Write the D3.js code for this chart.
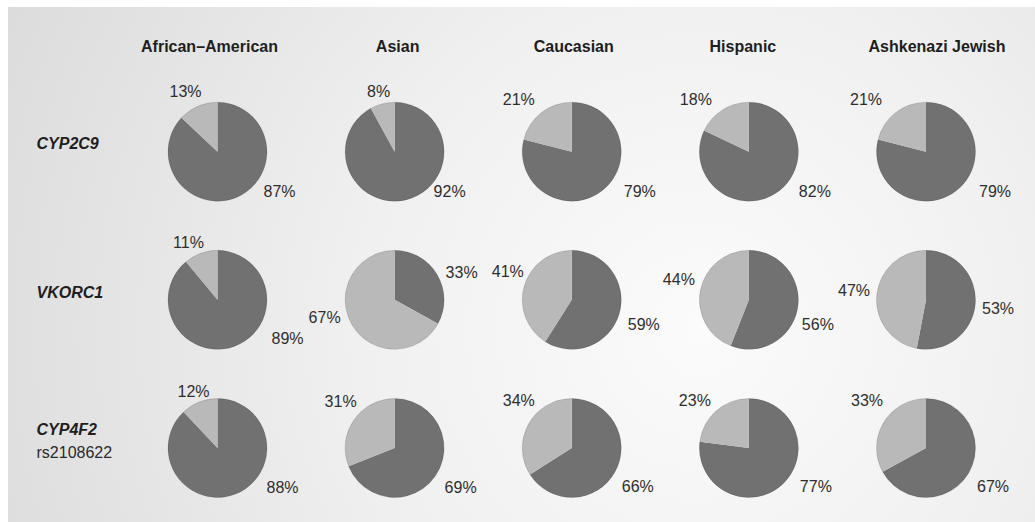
<!DOCTYPE html>
<html>
<head>
<meta charset="utf-8">
<script src="https://cdn.jsdelivr.net/npm/d3@7"></script>
<style>
  html, body { margin: 0; padding: 0; background: #ffffff; }
  svg { display: block; font-family: "Liberation Sans", Arial, Helvetica, sans-serif; }
</style>
</head>
<body>
<svg id="chart" width="1035" height="522"></svg>
<script>
// Populations (columns) and genes (rows)
const populations = ["African–American", "Asian", "Caucasian", "Hispanic", "Ashkenazi Jewish"];
const genes = ["CYP2C9", "VKORC1", "CYP4F2"];
const geneNotes = ["", "", "rs2108622"];

// Allele group shares in percent: dark = first slice, light = second slice
const cyp2c9Dark  = [87, 92, 79, 82, 79];
const cyp2c9Light = [13,  8, 21, 18, 21];
const vkorc1Dark  = [89, 33, 59, 56, 53];
const vkorc1Light = [11, 67, 41, 44, 47];
const cyp4f2Dark  = [88, 69, 66, 77, 67];
const cyp4f2Light = [12, 31, 34, 23, 33];

const darkByGene  = [cyp2c9Dark, vkorc1Dark, cyp4f2Dark];
const lightByGene = [cyp2c9Light, vkorc1Light, cyp4f2Light];

// Layout: where each percentage label sits relative to its pie centre
const darkLabelShift = [
  [[62, 40], [55, 40], [68, 40], [66, 40], [69, 40]],
  [[70, 39], [67, -27], [72, 25], [69, 25], [72, 9]],
  [[65, 39], [66, 39], [66, 38], [67, 38], [67, 38]]
];
const lightLabelShift = [
  [[-32, -60], [-16, -60], [-53, -52], [-53, -52], [-60, -52]],
  [[-29, -57], [-70, 18], [-64, -28], [-70, -20], [-72, -9]],
  [[-24, -57], [-54, -47], [-53, -48], [-54, -48], [-59, -48]]
];
const headerShift = [-8, 3, 2, -6, 11];

const W = 1035, H = 522;
const radius = 49.5;
const colors = { dark: "#717171", light: "#b9b9b9" };

const svg = d3.select("#chart");

// Soft grey backdrop, lighter towards the centre-right
const defs = svg.append("defs");
const grad = defs.append("radialGradient")
  .attr("id", "bg")
  .attr("gradientUnits", "userSpaceOnUse")
  .attr("cx", 700).attr("cy", 330).attr("r", 760);
grad.append("stop").attr("offset", 0).attr("stop-color", "#fbfbfb");
grad.append("stop").attr("offset", 0.45).attr("stop-color", "#f0f0f0");
grad.append("stop").attr("offset", 1).attr("stop-color", "#dcdcdc");

svg.append("rect")
  .attr("x", 8).attr("y", 7)
  .attr("width", W - 8).attr("height", H - 7)
  .attr("fill", "url(#bg)");

const x = d3.scalePoint().domain(populations).range([217.5, 926]);
const y = d3.scalePoint().domain(genes).range([151.7, 448]);

// Column headers
svg.append("g").selectAll("text")
  .data(populations)
  .join("text")
  .attr("x", (d, i) => x(d) + headerShift[i])
  .attr("y", 51.5)
  .attr("text-anchor", "middle")
  .attr("font-size", 16)
  .attr("font-weight", "bold")
  .attr("fill", "#1e1e1e")
  .text(d => d);

// Row labels
const rowLabels = svg.append("g").selectAll("g")
  .data(genes)
  .join("g")
  .attr("transform", d => `translate(36.5, ${y(d) - 8})`);

rowLabels.append("text")
  .attr("y", (d, i) => geneNotes[i] ? -5.5 : 5.7)
  .attr("font-size", 16)
  .attr("font-weight", "bold")
  .attr("font-style", "italic")
  .attr("fill", "#1e1e1e")
  .text(d => d);

rowLabels.append("text")
  .attr("y", 17.5)
  .attr("font-size", 16)
  .attr("fill", "#2a2a2a")
  .text((d, i) => geneNotes[i]);

// Pies: dark share runs clockwise from twelve o'clock, light share fills the rest
const pie = d3.pie().sort(null).value(d => d.value);
const arc = d3.arc().innerRadius(0).outerRadius(radius);

genes.forEach((gene, gi) => {
  populations.forEach((pop, pi) => {
    const slices = [
      { kind: "dark",  value: darkByGene[gi][pi],  shift: darkLabelShift[gi][pi] },
      { kind: "light", value: lightByGene[gi][pi], shift: lightLabelShift[gi][pi] }
    ];
    const g = svg.append("g")
      .attr("transform", `translate(${x(pop)}, ${y(gene)})`);

    g.selectAll("path")
      .data(pie(slices))
      .join("path")
      .attr("d", arc)
      .attr("fill", d => colors[d.data.kind]);

    g.append("circle")
      .attr("r", radius)
      .attr("fill", "none")
      .attr("stroke", "rgba(0,0,0,0.12)")
      .attr("stroke-width", 1);

    g.selectAll("text")
      .data(slices)
      .join("text")
      .attr("x", d => d.shift[0])
      .attr("y", d => d.shift[1])
      .attr("dy", "0.35em")
      .attr("text-anchor", "middle")
      .attr("font-size", 16)
      .attr("fill", "#2e2e2e")
      .text(d => d.value + "%");
  });
});
</script>
</body>
</html>
